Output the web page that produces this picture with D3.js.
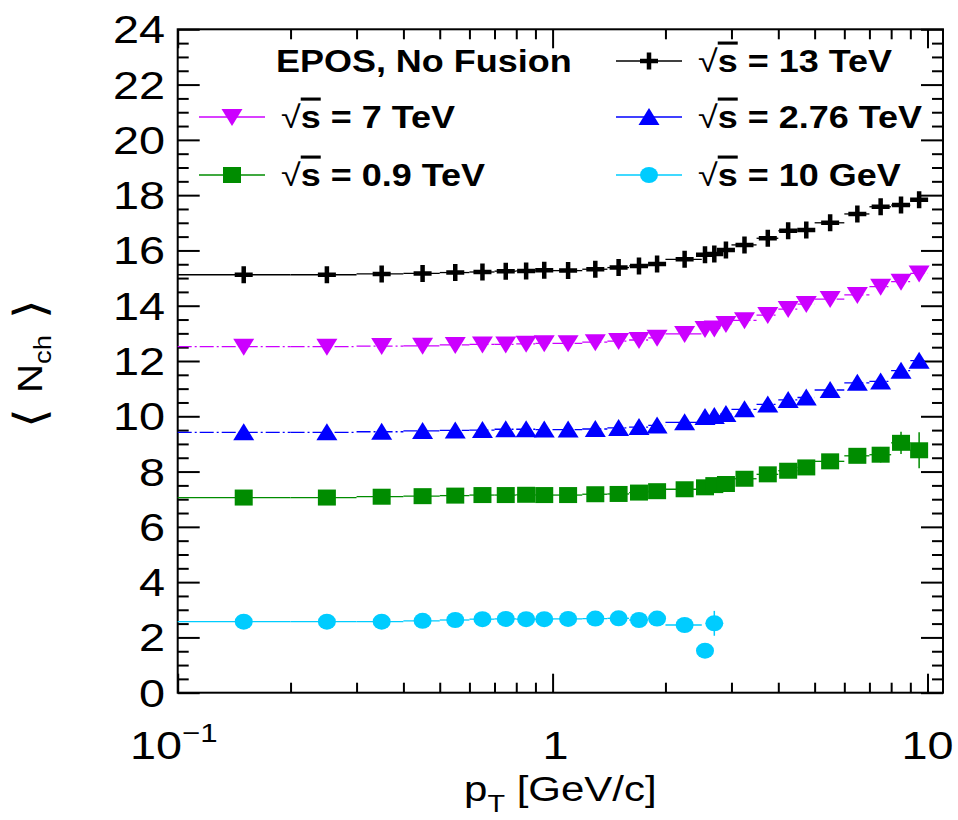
<!DOCTYPE html>
<html>
<head>
<meta charset="utf-8">
<script src="https://cdn.jsdelivr.net/npm/d3@7"></script>
<style>
  body { margin: 0; background: #fff; }
  text { font-family: "Liberation Sans", Arial, Helvetica, sans-serif; fill: #000; }
</style>
</head>
<body>
<svg id="chart" width="958" height="820"></svg>
<script>
// pT binning (GeV/c): bin edges and the bin centres where the markers sit
const ptEdges = [0.1,0.2,0.3,0.4,0.5,0.6,0.7,0.8,0.9,1.0,1.2,1.4,1.6,1.8,2.0,2.5,2.6,2.8,3.0,3.5,4.0,4.5,5.0,6.0,7.0,8.0,9.0,10.0];
const ptCenters = [0.15,0.25,0.35,0.45,0.55,0.65,0.75,0.85,0.95,1.1,1.3,1.5,1.7,1.9,2.25,2.55,2.7,2.9,3.25,3.75,4.25,4.75,5.5,6.5,7.5,8.5,9.5];

// <N_ch> per pT bin for each collision energy (EPOS, no core fusion)
const nch13TeV  = [15.12,15.12,15.15,15.17,15.20,15.22,15.25,15.26,15.28,15.27,15.32,15.38,15.44,15.51,15.68,15.84,15.87,16.02,16.20,16.44,16.71,16.74,17.00,17.32,17.58,17.64,17.83];
const nch7TeV   = [12.52,12.52,12.54,12.55,12.58,12.60,12.60,12.62,12.64,12.64,12.68,12.72,12.76,12.84,12.98,13.16,13.18,13.34,13.47,13.66,13.88,14.06,14.24,14.39,14.69,14.87,15.17];
const nch276TeV = [9.42,9.42,9.44,9.47,9.49,9.50,9.53,9.53,9.52,9.52,9.54,9.58,9.61,9.67,9.78,9.97,10.01,10.08,10.25,10.43,10.59,10.68,10.95,11.21,11.26,11.65,12.01];
const nch09TeV  = [7.06,7.06,7.09,7.11,7.13,7.15,7.15,7.16,7.15,7.15,7.18,7.19,7.24,7.29,7.36,7.43,7.51,7.55,7.74,7.90,8.03,8.15,8.37,8.57,8.61,9.04,8.77];
const err09TeV  = [0,0,0,0,0,0,0,0,0,0,0,0,0,0,0,0,0,0,0,0,0,0,0.10,0.22,0.28,0.40,0.65];
const nch10GeV  = [2.57,2.57,2.57,2.60,2.63,2.66,2.67,2.66,2.66,2.67,2.68,2.69,2.63,2.68,2.45,1.52,2.51];
const err10GeV  = [0,0,0,0,0,0,0,0,0,0,0,0,0,0,0,0,0.45];

const yTicks = [0,2,4,6,8,10,12,14,16,18,20,22,24];
const legendHeader = "EPOS, No Fusion";

const series = [
  { energy: "13",   unit: "TeV", values: nch13TeV,  errors: null,     color: "#000000", marker: "cross",   dash: null },
  { energy: "7",    unit: "TeV", values: nch7TeV,   errors: null,     color: "#cc00ff", marker: "triDown", dash: "14,3,2,3" },
  { energy: "2.76", unit: "TeV", values: nch276TeV, errors: null,     color: "#0000ff", marker: "triUp",   dash: "14,3,2,3" },
  { energy: "0.9",  unit: "TeV", values: nch09TeV,  errors: err09TeV, color: "#008c00", marker: "square",  dash: null },
  { energy: "10",   unit: "GeV", values: nch10GeV,  errors: err10GeV, color: "#00ccff", marker: "circle",  dash: null }
];

const svg = d3.select("#chart");
const X0 = 177.7, X1 = 943, Y0 = 692.7, Y1 = 29.3;
const x = d3.scaleLog().domain([0.1, 11]).range([X0, X1]);
const y = d3.scaleLinear().domain([0, 24]).range([Y0, Y1]);

// text with a slight horizontal stretch, as in the original typesetting
function stext(g, px, py, sx, anchor, size, weight) {
  return g.append("text")
    .attr("transform", `translate(${px},${py}) scale(${sx},1)`)
    .attr("text-anchor", anchor)
    .attr("font-size", size)
    .attr("font-weight", weight || "normal");
}

// ---- axes (ticks on all four sides, pointing inward) ----
const yMinor = d3.range(0, 24.001, 0.5).filter(v => v % 2 !== 0);
const xMajor = [0.1, 1, 10];
const xMinor = [0.2,0.3,0.4,0.5,0.6,0.7,0.8,0.9,2,3,4,5,6,7,8,9];

function axisG(axis, tx, ty) {
  const g = svg.append("g").attr("transform", `translate(${tx},${ty})`).call(axis);
  g.select(".domain").remove();
  g.selectAll("line").attr("stroke", "#000").attr("stroke-width", 2);
  g.selectAll("text").remove();
  return g;
}
axisG(d3.axisLeft(y).tickValues(yTicks).tickSizeInner(-22).tickSizeOuter(0), X0, 0);
axisG(d3.axisLeft(y).tickValues(yMinor).tickSizeInner(-11).tickSizeOuter(0), X0, 0);
axisG(d3.axisRight(y).tickValues(yTicks).tickSizeInner(-22).tickSizeOuter(0), X1, 0);
axisG(d3.axisRight(y).tickValues(yMinor).tickSizeInner(-11).tickSizeOuter(0), X1, 0);
axisG(d3.axisBottom(x).tickValues(xMajor).tickSizeInner(-19).tickSizeOuter(0), 0, Y0);
axisG(d3.axisBottom(x).tickValues(xMinor).tickSizeInner(-10).tickSizeOuter(0), 0, Y0);
axisG(d3.axisTop(x).tickValues(xMajor).tickSizeInner(-19).tickSizeOuter(0), 0, Y1);
axisG(d3.axisTop(x).tickValues(xMinor).tickSizeInner(-10).tickSizeOuter(0), 0, Y1);

// frame
svg.append("rect")
  .attr("x", X0).attr("y", Y1).attr("width", X1 - X0).attr("height", Y0 - Y1)
  .attr("fill", "none").attr("stroke", "#000").attr("stroke-width", 2);

// y tick labels
const yLab = svg.append("g");
yTicks.forEach(v => {
  stext(yLab, 165, y(v) + 14, 1.2, "end", 39).text(v);
});

// x tick labels
const xLab = svg.append("g");
{
  const t = stext(xLab, x(0.1) - 4, 759, 1.2, "middle", 39);
  t.append("tspan").text("10");
  t.append("tspan").attr("font-size", 26).attr("dy", -17).text("\u22121");
  stext(xLab, x(1) + 3, 759, 1.2, "middle", 39).text("1");
  stext(xLab, x(10), 759, 1.2, "middle", 39).text("10");
}

// axis titles
{
  const t = stext(svg, (X0 + X1) / 2, 801, 1.2, "middle", 35);
  t.append("tspan").text("p");
  t.append("tspan").attr("font-size", 24).attr("dy", 11).text("T");
  t.append("tspan").attr("dy", -11).text(" [GeV/c]");

  const yt = svg.append("text")
    .attr("transform", `translate(42,${(Y0 + Y1) / 2 + 3}) rotate(-90) scale(1.15,1)`)
    .attr("text-anchor", "middle").attr("font-size", 35);
  yt.append("tspan").attr("font-family", "DejaVu Sans").attr("font-weight", 200).attr("font-size", 44).attr("dy", 3).text("\u27E8 ");
  yt.append("tspan").attr("dy", -3).text("N");
  yt.append("tspan").attr("font-size", 24).attr("dy", 9).text("ch");
  yt.append("tspan").attr("dy", -6).attr("font-family", "DejaVu Sans").attr("font-weight", 200).attr("font-size", 44).text(" \u27E9");
}

// ---- markers ----
function drawMarker(g, type, color) {
  switch (type) {
    case "cross":
      return g.append("path").attr("d", "M-9,0H9M0,-8.5V8.5").attr("stroke", color).attr("stroke-width", 4.5).attr("fill", "none");
    case "triDown":
      return g.append("path").attr("d", "M-10.5,-8L10.5,-8L0,9Z").attr("fill", color);
    case "triUp":
      return g.append("path").attr("d", "M-10.5,8L10.5,8L0,-9Z").attr("fill", color);
    case "square":
      return g.append("rect").attr("x", -9).attr("y", -8).attr("width", 18).attr("height", 16).attr("fill", color);
    case "circle":
      return g.append("ellipse").attr("rx", 9).attr("ry", 8).attr("fill", color);
  }
}

// ---- data: x-error bars (bin widths), y-error bars, markers ----
const plot = svg.append("g");
series.forEach(s => {
  const pts = s.values.map((v, i) => ({
    pt: ptCenters[i], lo: ptEdges[i], hi: ptEdges[i + 1], v, e: s.errors ? s.errors[i] : 0
  }));
  const g = plot.append("g");
  g.selectAll("line.xerr").data(pts).join("line")
    .attr("x1", d => x(d.lo)).attr("x2", d => x(d.hi))
    .attr("y1", d => y(d.v)).attr("y2", d => y(d.v))
    .attr("stroke", s.color).attr("stroke-width", 1.3)
    .attr("stroke-dasharray", s.dash);
  g.selectAll("line.yerr").data(pts.filter(d => d.e > 0)).join("line")
    .attr("x1", d => x(d.pt)).attr("x2", d => x(d.pt))
    .attr("y1", d => y(d.v - d.e)).attr("y2", d => y(d.v + d.e))
    .attr("stroke", s.color).attr("stroke-width", 1.5);
  pts.forEach(d => {
    const m = g.append("g").attr("transform", `translate(${x(d.pt)},${y(d.v)})`);
    drawMarker(m, s.marker, s.color);
  });
});

// ---- legend ----
const leg = svg.append("g");
const rowY = [61, 117, 175];
stext(leg, 276, rowY[0] + 11, 1.16, "start", 31, "bold").text(legendHeader);
const slots = [
  { s: series[0], col: 1, row: 0 },
  { s: series[1], col: 0, row: 1 },
  { s: series[2], col: 1, row: 1 },
  { s: series[3], col: 0, row: 2 },
  { s: series[4], col: 1, row: 2 }
];
const colX = [{ l0: 199, l1: 265, tx: 281 }, { l0: 616, l1: 682, tx: 698 }];
slots.forEach(({ s, col, row }) => {
  const c = colX[col], yy = rowY[row];
  leg.append("line").attr("x1", c.l0).attr("x2", c.l1).attr("y1", yy).attr("y2", yy)
    .attr("stroke", s.color).attr("stroke-width", 1.3);
  const m = leg.append("g").attr("transform", `translate(${(c.l0 + c.l1) / 2},${yy})`);
  drawMarker(m, s.marker, s.color);
  const t = stext(leg, c.tx, yy + 11, 1.16, "start", 31, "bold");
  t.append("tspan").attr("font-weight", "normal").text("\u221A");
  t.append("tspan").style("text-decoration", "overline").text("s");
  t.append("tspan").text(` = ${s.energy} ${s.unit}`);
});
</script>
</body>
</html>
